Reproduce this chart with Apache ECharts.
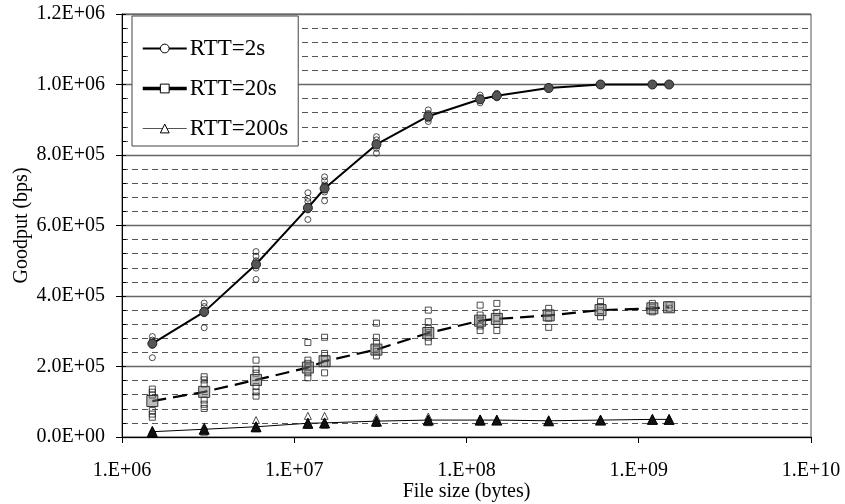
<!DOCTYPE html>
<html>
<head>
<meta charset="utf-8">
<title>Goodput vs file size</title>
<script src="https://cdn.jsdelivr.net/npm/echarts@6.0.0/dist/echarts.min.js"></script>
<style>
  html, body { margin: 0; padding: 0; background: #fff; }
  #chart { width: 845px; height: 504px; }
</style>
</head>
<body>
<div id="chart"></div>
<script>
// B 数据
var fileSizes = [1.5e6, 3e6, 6e6, 1.2e7, 1.5e7, 3e7, 6e7, 1.2e8, 1.5e8, 3e8, 6e8, 1.2e9, 1.5e9]

// 平均值（折线）
var rtt2Mean = [2.65e5, 3.55e5, 4.9e5, 6.5e5, 7.05e5, 8.3e5, 9.1e5, 9.58e5, 9.68e5, 9.9e5, 1.0e6, 1.0e6, 1.0e6]
var rtt20Mean = [1.02e5, 1.28e5, 1.62e5, 1.97e5, 2.15e5, 2.48e5, 2.95e5, 3.3e5, 3.35e5, 3.45e5, 3.6e5, 3.65e5, 3.68e5]
var rtt200Mean = [1.5e4, 2.2e4, 2.9e4, 3.9e4, 4.0e4, 4.5e4, 4.8e4, 4.8e4, 4.8e4, 4.6e4, 4.8e4, 5.0e4, 5.0e4]

// 每次测量（散点），顺序同 fileSizes
var rtt2Runs = [
  [2.85e5, 2.75e5, 2.68e5, 2.6e5, 2.25e5],
  [3.8e5, 3.7e5, 3.6e5, 3.5e5, 3.1e5],
  [5.26e5, 5.13e5, 5.0e5, 4.9e5, 4.79e5, 4.47e5],
  [6.93e5, 6.77e5, 6.68e5, 6.55e5, 6.44e5, 6.17e5],
  [7.38e5, 7.27e5, 7.15e5, 7.03e5, 6.95e5, 6.7e5],
  [8.52e5, 8.43e5, 8.31e5, 8.19e5, 8.05e5],
  [9.28e5, 9.18e5, 9.1e5, 9.02e5, 8.95e5],
  [9.7e5, 9.62e5, 9.55e5, 9.48e5],
  [9.75e5, 9.68e5, 9.62e5],
  [9.94e5, 9.9e5, 9.86e5],
  [1.002e6, 1.0e6, 0.998e6],
  [1.002e6, 1.0e6],
  [1.002e6, 1.0e6]
]
var rtt20Runs = [
  [1.36e5, 1.27e5, 1.19e5, 7.5e4, 6.5e4, 5.6e4],
  [1.71e5, 1.62e5, 1.5e5, 1.05e5, 9.3e4, 8.1e4],
  [2.18e5, 1.92e5, 1.81e5, 1.43e5, 1.28e5, 1.16e5],
  [2.68e5, 2.18e5, 2.09e5, 1.98e5, 1.82e5, 1.68e5],
  [2.83e5, 2.37e5, 2.23e5, 2.09e5, 1.82e5],
  [3.23e5, 2.83e5, 2.66e5, 2.52e5, 2.42e5, 2.3e5],
  [3.6e5, 3.27e5, 3.08e5, 2.96e5, 2.83e5, 2.7e5],
  [3.74e5, 3.46e5, 3.32e5, 3.15e5, 3.02e5],
  [3.79e5, 3.53e5, 3.37e5, 3.2e5, 3.02e5],
  [3.65e5, 3.51e5, 3.37e5, 3.11e5],
  [3.84e5, 3.7e5, 3.58e5, 3.41e5],
  [3.79e5, 3.68e5, 3.55e5],
  [3.75e5, 3.65e5]
]
var rtt200Runs = [
  [2.0e4, 1.2e4],
  [3.0e4, 2.2e4, 1.5e4],
  [4.8e4, 3.2e4, 2.5e4],
  [6.0e4, 4.2e4, 3.5e4],
  [6.0e4, 4.2e4, 3.5e4],
  [5.5e4, 4.5e4, 4.0e4],
  [5.8e4, 4.8e4, 4.2e4],
  [5.3e4, 4.8e4, 4.4e4],
  [5.0e4, 4.6e4],
  [4.8e4, 4.4e4],
  [5.0e4, 4.6e4],
  [5.3e4, 4.8e4],
  [5.3e4, 4.8e4]
]
var seriesNames = ['RTT=2s', 'RTT=20s', 'RTT=200s']
// E 数据

// B 工具函数
function pad2 (n) {
  return (n < 10 ? '0' : '') + n
}
function toPairs (ys) {
  return fileSizes.map(function (x, i) { return [x, ys[i]] })
}
function flattenRuns (runs) {
  var out = []
  for (var i = 0; i < runs.length; i++) {
    for (var j = 0; j < runs[i].length; j++) {
      out.push([fileSizes[i], runs[i][j]])
    }
  }
  return out
}
// E 工具函数

var font = 'Liberation Serif'
var myChart = echarts.init(document.getElementById('chart'))

// 图例里的空心标记
var legendMark = { color: '#fff', borderColor: '#000', borderWidth: 1 }

var option = {
  animation: false,
  backgroundColor: '#fff',
  textStyle: { fontFamily: font, color: '#000' },
  grid: {
    left: 122, right: 34, top: 14, bottom: 67,
    outerBoundsMode: 'none',
    show: true,
    borderColor: '#555',
    borderWidth: 1
  },
  legend: {
    orient: 'vertical',
    left: 132,
    top: 16,
    padding: [21, 10, 6, 9],
    itemWidth: 44,
    itemHeight: 11,
    itemGap: 17,
    backgroundColor: '#fff',
    borderColor: '#444',
    borderWidth: 1,
    textStyle: { fontFamily: font, fontSize: 23, lineHeight: 23, color: '#000', padding: [0, 0, 0, -2] },
    data: [
      { name: 'RTT=2s', itemStyle: legendMark, lineStyle: { width: 2, color: '#000', type: 'solid' } },
      { name: 'RTT=20s', itemStyle: legendMark, lineStyle: { width: 3.5, color: '#000', type: 'solid' } },
      { name: 'RTT=200s', itemStyle: legendMark, lineStyle: { width: 1, color: '#555', type: 'solid' } }
    ]
  },
  xAxis: {
    type: 'log',
    logBase: 10,
    min: 1e6,
    max: 1e10,
    name: 'File size (bytes)',
    nameLocation: 'middle',
    nameGap: 45,
    nameMoveOverlap: false,
    nameTextStyle: { fontFamily: font, fontSize: 20, color: '#000' },
    axisLine: { lineStyle: { color: '#000', width: 1 } },
    axisTick: { show: true, inside: false, length: 6, lineStyle: { color: '#000' } },
    minorTick: { show: false },
    splitLine: { show: false },
    axisLabel: {
      margin: 24,
      fontFamily: font,
      fontSize: 20,
      color: '#000',
      formatter: function (v) {
        return '1.E+' + pad2(Math.round(Math.log10(v)))
      }
    }
  },
  yAxis: [
    {
      type: 'value',
      min: 0,
      max: 1.2e6,
      interval: 2e5,
      name: 'Goodput (bps)',
      nameLocation: 'middle',
      nameGap: 90,
      nameMoveOverlap: false,
      nameTextStyle: { fontFamily: font, fontSize: 20, color: '#000' },
      axisLine: { show: true, lineStyle: { color: '#000', width: 1 } },
      axisTick: { show: true, inside: false, length: 6, lineStyle: { color: '#000' } },
      axisLabel: {
        margin: 17,
        fontFamily: font,
        fontSize: 20,
        color: '#000',
        formatter: function (v) {
          if (v === 0) return '0.0E+00'
          var e = Math.floor(Math.log10(v) + 1e-9)
          var m = v / Math.pow(10, e)
          return m.toFixed(1) + 'E+' + pad2(e)
        }
      },
      splitLine: { show: true, lineStyle: { color: '#666', width: 1.3, type: 'solid' } },
      minorTick: { show: false, splitNumber: 5 },
      minorSplitLine: { show: true, lineStyle: { color: '#555', width: 1.2, type: [6, 4] } }
    },
    {
      // 内侧小刻度
      type: 'value',
      position: 'left',
      min: 0,
      max: 1.2e6,
      interval: 4e4,
      axisLine: { show: false },
      axisTick: { show: true, inside: true, length: 4, lineStyle: { color: '#000' } },
      axisLabel: { show: false },
      splitLine: { show: false }
    }
  ],
  series: [
    // 散点
    {
      name: 'RTT=2s runs',
      type: 'scatter',
      symbol: 'circle',
      symbolSize: 6,
      itemStyle: { color: 'rgba(255,255,255,0)', borderColor: '#222', borderWidth: 1 },
      data: flattenRuns(rtt2Runs),
      z: 2
    },
    {
      name: 'RTT=20s runs',
      type: 'scatter',
      symbol: 'rect',
      symbolSize: 6,
      itemStyle: { color: 'rgba(255,255,255,0)', borderColor: '#222', borderWidth: 1 },
      data: flattenRuns(rtt20Runs),
      z: 2
    },
    {
      name: 'RTT=200s runs',
      type: 'scatter',
      symbol: 'triangle',
      symbolSize: 7,
      itemStyle: { color: 'rgba(255,255,255,0)', borderColor: '#222', borderWidth: 1 },
      data: flattenRuns(rtt200Runs),
      z: 2
    },
    // 平均值折线
    {
      name: seriesNames[0],
      type: 'line',
      symbol: 'circle',
      symbolSize: 9,
      lineStyle: { color: '#000', width: 2, type: 'solid' },
      itemStyle: { color: '#555', borderColor: '#222', borderWidth: 1 },
      data: toPairs(rtt2Mean),
      z: 3
    },
    {
      name: seriesNames[1],
      type: 'line',
      symbol: 'rect',
      symbolSize: 11,
      lineStyle: { color: '#000', width: 2.2, type: [14, 7] },
      itemStyle: { color: 'rgba(120,120,120,0.5)', borderColor: '#333', borderWidth: 1 },
      data: toPairs(rtt20Mean),
      z: 3
    },
    {
      name: seriesNames[2],
      type: 'line',
      symbol: 'triangle',
      symbolSize: 10,
      lineStyle: { color: '#000', width: 1, type: 'solid' },
      itemStyle: { color: '#111', borderColor: '#000', borderWidth: 1 },
      data: toPairs(rtt200Mean),
      z: 3
    }
  ]
}

myChart.setOption(option)
</script>
</body>
</html>
